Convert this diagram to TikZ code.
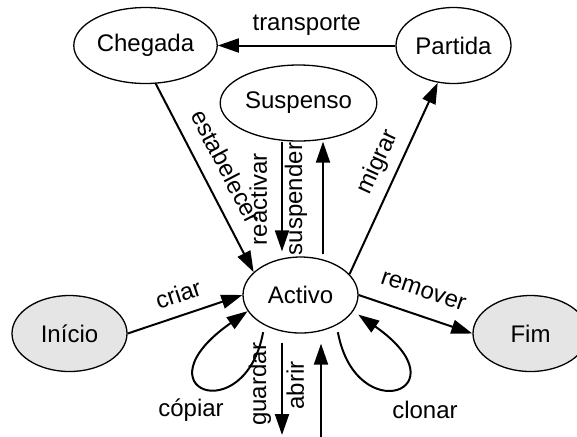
\documentclass[tikz,border=0pt]{standalone}
\usepackage{fontspec}
\setmainfont{Liberation Sans}
\usetikzlibrary{positioning, arrows.meta, shapes.geometric}

\tikzset{
    estado/.style={draw, ellipse, line width=0.65pt, minimum width=57.5pt, minimum height=38pt, inner sep=1pt},
    terminal/.style={estado, fill=black!10},
    trans/.style={line width=1pt, -{Triangle[length=10.5pt, width=7pt]}},
    rotinc/.style={sloped, anchor=south, outer sep=#1},
    rotvert/.style={rotate=90, anchor=south, inner sep=#1},
    rotvert/.default=7pt,
}

\begin{document}
\begin{tikzpicture}[x=0.5pt, y=-0.5pt, font=\fontsize{12}{14.4}\selectfont]
    \useasboundingbox (0,0) rectangle (577,436);
    % Estados
    \node[estado] (chegada) at (145.5,45.5) {Chegada};
    \node[estado] (partida) at (453.5,45.5) {Partida};
    \node[estado] (suspenso) at (298.5,103) {Suspenso};
    \node[estado] (activo) at (300.5,295) {Activo};
    \node[terminal] (inicio) at (69.5,333.5) {Início};
    \node[terminal] (fim) at (530.5,333.5) {Fim};
    % Pontas soltas em baixo
    \coordinate (saida) at (282,435);
    \coordinate (entrada) at (321,437);
    % Transições
    \draw[trans] (partida) -- node[anchor=south, outer sep=1.8pt] {transporte} (chegada);
    \draw[trans] (chegada.-75) -- node[rotinc=4.5pt] {estabelecer} (activo.154);
    \draw[trans, shorten >=2.5pt] (suspenso.south -| 282,0) -- node[rotvert] {reactivar} (activo.north -| 282,0);
    \draw[trans, shorten <=1pt] (activo.north -| 323,0) -- node[rotvert=7.5pt] {suspender} (suspenso.south -| 323,0);
    \draw[trans] (activo.23) -- node[rotinc=1.5pt, pos=0.54] {migrar} (partida.-113);
    \draw[trans] (inicio.east) -- node[rotinc=2.9pt] {criar} (activo.west);
    \draw[trans] (activo.east) -- node[rotinc=5.6pt] {remover} (fim.west);
    \draw[trans, shorten <=4.5pt] (activo.south -| saida) -- node[rotvert=5pt] {guardar} (saida);
    \draw[trans, shorten >=5pt] (entrada) -- node[rotvert=8pt] {abrir} (activo.south -| entrada);
    % Laços
    \draw[trans, shorten <=3.5pt] (activo.-140) .. controls (245,430) and (135,390) .. (activo.-163);
    \draw[trans, shorten <=3.5pt, shorten >=3pt] (activo.-40) .. controls (356,430) and (466,390) .. (activo.-17);
    \node (lcopiar) at (191,410) {cópiar};
    \node (lclonar) at (425,410) {clonar};
\end{tikzpicture}
\end{document}
